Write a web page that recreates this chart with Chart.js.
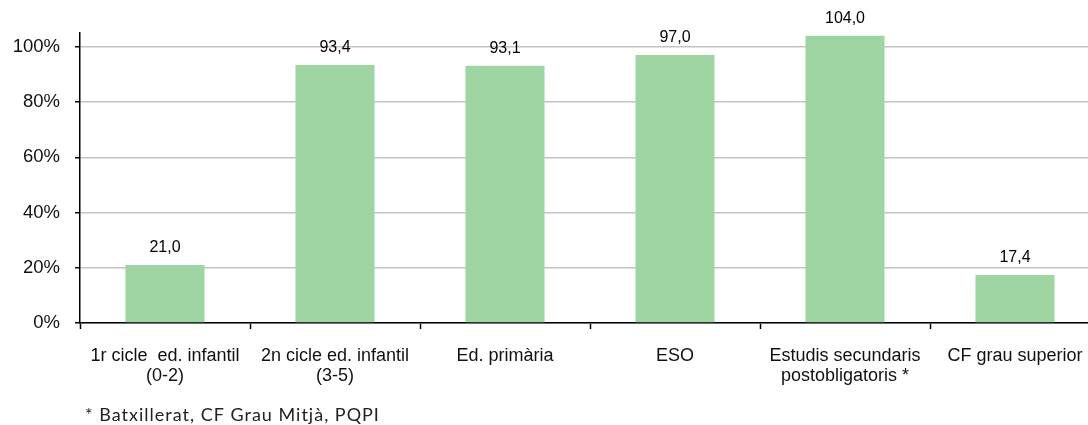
<!DOCTYPE html>
<html>
<head>
<meta charset="utf-8">
<script src="https://cdn.jsdelivr.net/npm/chart.js@4"></script>
<style>
  html, body { margin: 0; padding: 0; background: #fff; overflow: hidden; }
  #wrap { position: relative; width: 1100px; height: 425px; }
</style>
</head>
<body>
<div id="wrap"><canvas id="schoolingChart"></canvas></div>
<script>
const categories = [
  ["1r cicle  ed. infantil", "(0-2)"],
  ["2n cicle ed. infantil", "(3-5)"],
  "Ed. primària",
  "ESO",
  ["Estudis secundaris", "postobligatoris *"],
  "CF grau superior",
];
const rates = [21.0, 93.4, 93.1, 97.0, 104.0, 17.4];
const yTicks = [0, 20, 40, 60, 80, 100];
const footnote = "* Batxillerat, CF Grau Mitjà, PQPI";

const FONT = "'Liberation Sans', Arial, sans-serif";

// value labels above each bar, decimal comma like the source
const barValueLabels = {
  id: "barValueLabels",
  afterDatasetsDraw(chart) {
    const { ctx } = chart;
    const meta = chart.getDatasetMeta(0);
    ctx.save();
    ctx.font = `16px ${FONT}`;
    ctx.fillStyle = "#000";
    ctx.textAlign = "center";
    ctx.textBaseline = "alphabetic";
    meta.data.forEach((bar, i) => {
      ctx.fillText(rates[i].toFixed(1).replace(".", ","), bar.x, bar.y - 13);
    });
    ctx.restore();
  },
};

const footnotePlugin = {
  id: "footnote",
  afterDraw(chart) {
    const { ctx } = chart;
    ctx.save();
    ctx.font = `18px Lato, 'Open Sans', sans-serif`;
    ctx.letterSpacing = "1px";
    ctx.fillStyle = "#222";
    ctx.textAlign = "left";
    ctx.textBaseline = "alphabetic";
    ctx.fillText(footnote, 85, 421);
    ctx.restore();
  },
};

const canvas = document.getElementById("schoolingChart");
new Chart(canvas, {
  type: "bar",
  data: {
    labels: categories,
    datasets: [
      {
        data: rates,
        backgroundColor: "#9fd5a3",
        categoryPercentage: 1,
        barPercentage: 0.465,
      },
    ],
  },
  options: {
    responsive: true,
    maintainAspectRatio: false,
    animation: false,
    layout: { padding: { top: 33, right: 0, bottom: 0, left: 0 } },
    plugins: {
      legend: { display: false },
      tooltip: { enabled: false },
    },
    scales: {
      x: {
        afterFit(scale) { scale.height = 102; },
        grid: {
          offset: true,
          drawOnChartArea: false,
          tickLength: 6,
          tickColor: "#000",
          tickWidth: 1.5,
        },
        border: { color: "#000", width: 1.5 },
        ticks: {
          color: "#111",
          padding: 17,
          maxRotation: 0,
          autoSkip: false,
          font: { family: FONT, size: 18, lineHeight: 1.1 },
        },
      },
      y: {
        min: 0,
        max: 105,
        afterFit(scale) { scale.width = 80; },
        afterBuildTicks(scale) { scale.ticks = yTicks.map((v) => ({ value: v })); },
        grid: {
          color: "#c4c4c4",
          lineWidth: 1.5,
          tickLength: 5,
          tickColor: "#000",
          tickWidth: 1.5,
        },
        border: { color: "#000", width: 1.5 },
        ticks: {
          color: "#111",
          padding: 15,
          font: { family: FONT, size: 18.5 },
          callback: (v) => v + "%",
        },
      },
    },
  },
  plugins: [barValueLabels, footnotePlugin],
});
</script>
</body>
</html>
